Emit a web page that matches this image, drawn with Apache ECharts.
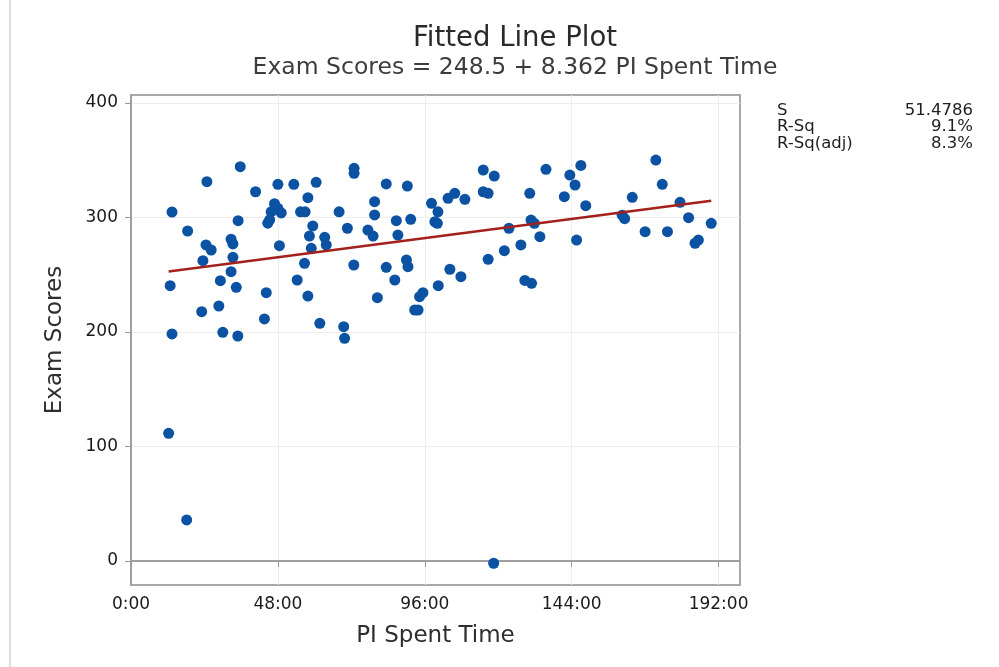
<!DOCTYPE html>
<html>
<head>
<meta charset="utf-8">
<title>Fitted Line Plot</title>
<script src="https://cdn.jsdelivr.net/npm/echarts@6/dist/echarts.min.js"></script>
<style>
  html, body { margin: 0; padding: 0; background: #fff; }
  #chart { width: 999px; height: 667px; }
</style>
</head>
<body>
<div id="chart"></div>
<script>
  // PI spent time in hours, exam score
  let spentHours = [12.3, 18.2, 118.5, 12.8, 13.4, 23.1, 28.7, 30.0, 34.4, 34.9, 29.2, 43.6, 44.2, 54.3, 57.8,
    61.7, 69.5, 69.8, 80.5, 86.2, 92.7, 93.8, 94.3, 95.4, 100.4, 107.8, 128.7, 130.9, 35.7, 24.8,
    40.7, 13.4, 35.0, 18.5, 24.5, 26.2, 32.7, 33.3, 23.5, 33.3, 32.7, 48.0, 53.2, 60.5, 72.9,
    72.9, 57.8, 46.9, 48.0, 45.8, 49.1, 44.7, 45.3, 55.4, 56.9, 68.0, 59.4, 70.7, 58.3, 63.3,
    63.8, 58.9, 48.5, 77.4, 79.1, 79.6, 79.6, 56.7, 72.8, 83.4, 90.3, 86.7, 91.4, 87.2, 98.2,
    100.3, 99.3, 100.1, 103.6, 105.8, 109.1, 115.1, 116.7, 115.1, 118.7, 90.0, 90.5, 83.4, 104.2, 116.7,
    135.6, 143.4, 145.1, 147.0, 171.5, 173.6, 163.8, 141.6, 130.3, 148.6, 179.4, 160.5, 161.3, 182.2, 189.6,
    168.0, 175.3, 184.3, 185.4, 130.7, 131.8, 123.5, 133.6, 145.6, 122.0, 127.4]
  let examScores = [111.5, 35.8, -2, 240.4, 198.3, 217.7, 222.7, 199.7, 239, 196.5, 244.8, 211.4, 234.3, 245.4, 231.4,
    207.6, 204.6, 194.5, 230, 245.4, 219.2, 219.2, 230.8, 234.3, 240.4, 248.3, 245, 242.5, 344.4, 331.3,
    322.5, 304.8, 297.2, 288.2, 276, 271.6, 281, 276.9, 262.3, 265.2, 252.7, 329, 329, 330.7, 343,
    338.6, 317.3, 312, 308, 305, 304, 295, 298, 305, 305, 305, 292.6, 290.6, 283.8, 282.7,
    276, 273.1, 275.4, 289, 283.8, 313.8, 302.2, 260, 258.5, 329.3, 327.5, 297.2, 298.4, 284.7, 312.4,
    305, 296.3, 294.9, 316.8, 321.1, 315.9, 322.5, 321.1, 341.5, 336.2, 262.9, 257, 256.5, 254.8, 263.5,
    342.1, 337.1, 328.4, 345.5, 350.2, 329, 317.6, 318.2, 321.1, 310.3, 313.3, 302, 299, 299.8, 294.9,
    287.6, 287.6, 277.5, 280.3, 297.8, 294.9, 290.6, 283.2, 280.3, 271, 276]

  let xTicks = [0, 48, 96, 144, 192]
  let yTicks = [0, 100, 200, 300, 400]

  // regression: score = b0 + b1 * days
  let b0 = 248.5
  let b1 = 8.362
  let statNames = ['S', 'R-Sq', 'R-Sq(adj)']
  let statValues = ['51.4786', '9.1%', '8.3%']

  let points = spentHours.map((h, i) => [h, examScores[i]])
  let xMin = Math.min(...spentHours)
  let xMax = Math.max(...spentHours)
  let fitLine = [[xMin, b0 + b1 * xMin / 24], [xMax, b0 + b1 * xMax / 24]]

  let font = 'DejaVu Sans'
  let statGraphics = []
  statNames.forEach((n, i) => {
    statGraphics.push({
      type: 'text', left: 777, top: 102 + i * 16.5,
      style: { text: n, font: '16.5px "DejaVu Sans"', fill: '#1e1e1e' }
    })
    statGraphics.push({
      type: 'text', x: 973, y: 102 + i * 16.5,
      style: { text: statValues[i], font: '16.5px "DejaVu Sans"', fill: '#1e1e1e', align: 'right', verticalAlign: 'top' }
    })
  })

  let chart = echarts.init(document.getElementById('chart'))
  let option = {
    backgroundColor: '#fff',
    animation: false,
    title: {
      text: 'Fitted Line Plot',
      subtext: 'Exam Scores = 248.5 + 8.362 PI Spent Time',
      left: 510,
      textAlign: 'center',
      top: 20,
      itemGap: 3,
      textStyle: { fontFamily: font, fontSize: 27.5, fontWeight: 'normal', color: '#2a2a2a' },
      subtextStyle: { fontFamily: font, fontSize: 23.5, color: '#3c3c3c' }
    },
    grid: {
      left: 131, top: 95, width: 609, height: 490,
      show: true, borderColor: '#a8a8a8', borderWidth: 2,
      containLabel: false
    },
    xAxis: {
      type: 'value',
      min: 0,
      max: 199,
      name: 'PI Spent Time',
      nameLocation: 'middle',
      nameGap: 40,
      nameTextStyle: { fontFamily: font, fontSize: 23, color: '#2e2e2e' },
      axisLine: { show: true, lineStyle: { color: '#a0a0a0', width: 2 } },
      axisTick: { show: true, length: 6, customValues: xTicks, lineStyle: { color: '#999' } },
      axisLabel: {
        customValues: xTicks, margin: 11,
        fontFamily: font, fontSize: 17, color: '#1a1a1a',
        formatter: v => v + ':00'
      },
      splitLine: { show: true, lineStyle: { color: '#eeeeee', width: 1 } }
    },
    yAxis: {
      type: 'value',
      min: -21,
      max: 407,
      name: 'Exam Scores',
      nameLocation: 'middle',
      nameGap: 64,
      nameTextStyle: { fontFamily: font, fontSize: 23, color: '#2e2e2e' },
      axisLine: { show: true, lineStyle: { color: '#a0a0a0', width: 2 } },
      axisTick: { show: true, length: 6, customValues: yTicks, lineStyle: { color: '#999' } },
      axisLabel: { customValues: yTicks, margin: 13, fontFamily: font, fontSize: 17, color: '#1a1a1a' },
      splitLine: { show: true, lineStyle: { color: '#eeeeee', width: 1 } }
    },
    graphic: [
      { type: 'rect', shape: { x: 9, y: 0, width: 2, height: 667 }, style: { fill: '#dcdcdc' } }
    ].concat(statGraphics),
    series: [
      {
        type: 'scatter',
        data: points,
        symbol: 'circle',
        symbolSize: 11,
        itemStyle: { color: '#0b52a3', opacity: 1 },
        z: 3
      },
      {
        type: 'line',
        data: fitLine,
        showSymbol: false,
        lineStyle: { color: '#a3201c', width: 2.5 },
        z: 4
      }
    ]
  }
  chart.setOption(option)
</script>
</body>
</html>
